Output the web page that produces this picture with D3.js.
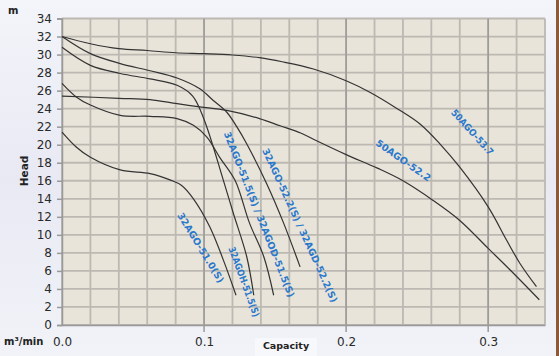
<!DOCTYPE html>
<html><head><meta charset="utf-8">
<script src="https://cdnjs.cloudflare.com/ajax/libs/d3/7.8.5/d3.min.js"></script>
<style>html,body{margin:0;padding:0;background:#fff;}svg{display:block;}</style>
</head><body><svg id="c" width="559" height="356"></svg>
<script>
// ---- data ----
const xTicks = [0.0, 0.1, 0.2, 0.3];
const yTicks = [0,2,4,6,8,10,12,14,16,18,20,22,24,26,28,30,32,34];
const series50AGO537 = [[0,32],[0.02,31.2],[0.04,30.65],[0.06,30.45],[0.08,30.2],[0.1,30.1],[0.12,29.95],[0.139,29.65],[0.155,29.2],[0.177,28.4],[0.2,27.1],[0.217,25.8],[0.236,24.0],[0.252,22.3],[0.266,20.1],[0.28,17.5],[0.3,13.1],[0.313,9.4],[0.3225,6.8],[0.334,4.25]];
const series50AGO522 = [[0,25.4],[0.04,25.15],[0.062,25.0],[0.081,24.55],[0.097,24.2],[0.116,23.8],[0.139,22.9],[0.1535,22.1],[0.168,21.3],[0.177,20.6],[0.2,18.9],[0.222,17.4],[0.24,16.0],[0.261,13.85],[0.28,11.6],[0.3,8.5],[0.3155,6.1],[0.336,2.8]];
const series32AGO522 = [[0,32],[0.02,30.1],[0.041,29.0],[0.062,28.2],[0.081,27.4],[0.097,26.2],[0.1065,24.9],[0.116,23.6],[0.123,22.0],[0.13,20.1],[0.144,15.7],[0.156,11.3],[0.1676,6.45]];
const series32AGOH515 = [[0,30.8],[0.02,28.8],[0.041,27.9],[0.062,27.3],[0.081,26.6],[0.092,25.4],[0.1,22.8],[0.1136,16.05],[0.1206,12.4],[0.13,7.6],[0.135,3.3]];
const series32AGO515 = [[0,26.8],[0.01,25.3],[0.02,24.4],[0.041,23.25],[0.062,23.15],[0.081,22.9],[0.0925,22.15],[0.102,20.85],[0.111,18.6],[0.1218,16.05],[0.132,11.3],[0.142,7.6],[0.149,3.3]];
const series32AGO510 = [[0,21.4],[0.01,19.75],[0.02,18.6],[0.041,17.2],[0.062,16.8],[0.076,16.1],[0.084,15.5],[0.0925,14.0],[0.104,10.9],[0.1136,7.2],[0.1225,3.3]];
const curves = [series50AGO537, series50AGO522, series32AGO522, series32AGOH515, series32AGO515, series32AGO510];
const labelTexts = ["50AGO-53.7","50AGO-52.2","32AGO-52.2(S) / 32AGD-52.2(S)","32AGO-51.5(S) / 32AGOD-51.5(S)","32AGOH-51.5(S)","32AGO-51.0(S)"];
const labelAnchors = [[0.289,21.4],[0.2404,18.27],[0.1676,11.07],[0.1389,12.27],[0.1283,4.8],[0.0978,8.58]];
const labelAngles = [48,35,65.5,68.5,70,58.6];
const labelLengths = [58,65,168,177,74,80];

// ---- drawing ----
const svg = d3.select("#c");
const W=559,H=356;
const m = {l:62,r:545,t:18.5,b:325};
const x = d3.scaleLinear().domain([0,0.34]).range([m.l,m.r]);
const y = d3.scaleLinear().domain([0,34]).range([m.b,m.t]);

const defs = svg.append("defs");
const g1 = defs.append("linearGradient").attr("id","bg").attr("x1",0).attr("y1",0).attr("x2",0).attr("y2",1);
g1.append("stop").attr("offset","0%").attr("stop-color","#f3f5fa");
g1.append("stop").attr("offset","50%").attr("stop-color","#e8e9f3");
g1.append("stop").attr("offset","100%").attr("stop-color","#f1f3f8");
svg.append("rect").attr("width",W).attr("height",H).attr("fill","url(#bg)");
svg.append("rect").attr("x",556).attr("y",0).attr("width",3).attr("height",H).attr("fill","#8a5a3a");
svg.append("rect").attr("x",255).attr("y",338).attr("width",62).attr("height",18).attr("fill","#f7f8fb");

svg.append("rect").attr("x",m.l).attr("y",m.t).attr("width",m.r-m.l).attr("height",m.b-m.t).attr("fill","#e9e4d9");

// grid
const gx = d3.range(0,0.3401,0.02);
svg.append("g").selectAll("line").data(gx).join("line")
  .attr("x1",d=>x(d)).attr("x2",d=>x(d)).attr("y1",m.t).attr("y2",m.b)
  .attr("stroke","#bcb8b2").attr("stroke-width",1.8);
svg.append("g").selectAll("line").data(yTicks).join("line")
  .attr("x1",m.l).attr("x2",m.r).attr("y1",d=>y(d)).attr("y2",d=>y(d))
  .attr("stroke","#bcb8b2").attr("stroke-width",1.8);
svg.append("g").selectAll("line").data(xTicks.slice(1)).join("line")
  .attr("x1",d=>x(d)).attr("x2",d=>x(d)).attr("y1",m.t).attr("y2",m.b+7)
  .attr("stroke","#9c9a98").attr("stroke-width",1.5);

// axes
const ya = svg.append("g").attr("transform",`translate(${m.l},0)`)
  .call(d3.axisLeft(y).tickValues(yTicks).tickSize(5).tickPadding(5).tickFormat(d3.format("d")));
ya.select(".domain").attr("stroke","#999").attr("stroke-width",1.5);
ya.selectAll(".tick line").attr("stroke","#999").attr("stroke-width",1.5);
ya.selectAll("text").attr("font-family","DejaVu Sans").attr("font-size",12).attr("fill","#2a2a2a");
const xa = svg.append("g").attr("transform",`translate(0,${m.b})`)
  .call(d3.axisBottom(x).tickValues(xTicks).tickSize(0).tickPadding(12).tickFormat(d3.format(".1f")));
xa.select(".domain").attr("stroke","#999").attr("stroke-width",1.5);
xa.selectAll("text").attr("font-family","DejaVu Sans").attr("font-size",12).attr("fill","#2a2a2a");

// curves
const line = d3.line().x(d=>x(d[0])).y(d=>y(d[1])).curve(d3.curveCatmullRom.alpha(0.5));
svg.append("g").selectAll("path").data(curves).join("path")
  .attr("d",line).attr("fill","none").attr("stroke","#333").attr("stroke-width",1.2);

// labels
svg.append("g").selectAll("text").data(labelTexts).join("text")
  .attr("transform",(d,i)=>`translate(${x(labelAnchors[i][0])},${y(labelAnchors[i][1])}) rotate(${labelAngles[i]})`)
  .attr("text-anchor","middle").attr("dominant-baseline","central")
  .attr("font-family","DejaVu Sans").attr("font-weight","bold").attr("font-size",9.5)
  .attr("textLength",(d,i)=>labelLengths[i]).attr("lengthAdjust","spacingAndGlyphs")
  .attr("fill","#2a78cc").text(d=>d);

// titles
svg.append("text").attr("x",8).attr("y",14).attr("font-family","DejaVu Sans").attr("font-weight","bold").attr("font-size",10).attr("fill","#222").text("m");
svg.append("text").attr("x",4).attr("y",345).attr("font-family","DejaVu Sans").attr("font-weight","bold").attr("font-size",10).attr("fill","#222").text("m³/min");
svg.append("text").attr("x",286).attr("y",349).attr("text-anchor","middle").attr("font-family","DejaVu Sans").attr("font-weight","bold").attr("font-size",9.5).attr("fill","#222").text("Capacity");
svg.append("text").attr("transform","translate(28,171) rotate(-90)").attr("text-anchor","middle").attr("font-family","DejaVu Sans").attr("font-weight","bold").attr("font-size",10.5).attr("fill","#222").text("Head");
</script></body></html>
